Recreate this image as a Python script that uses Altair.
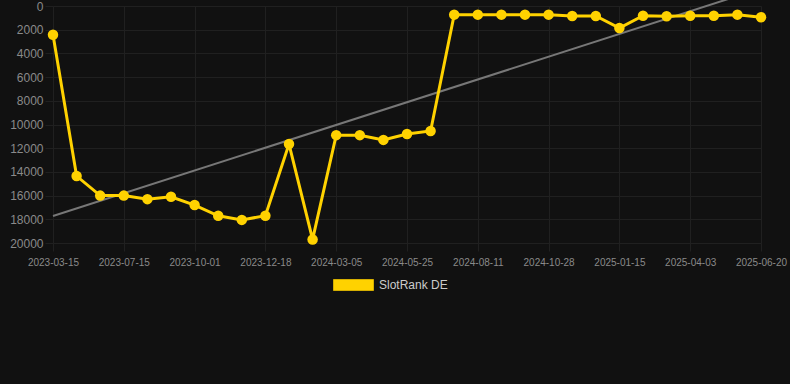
import altair as alt
import pandas as pd

dates = [
    "2023-03-15", "2023-04-25", "2023-06-04", "2023-07-15", "2023-08-11", "2023-09-05",
    "2023-10-01", "2023-10-27", "2023-11-22", "2023-12-18", "2024-01-13", "2024-02-08",
    "2024-03-05", "2024-03-31", "2024-04-29", "2024-05-25", "2024-06-20", "2024-07-16",
    "2024-08-11", "2024-09-06", "2024-10-02", "2024-10-28", "2024-11-23", "2024-12-20",
    "2025-01-15", "2025-02-10", "2025-03-08", "2025-04-03", "2025-04-29", "2025-05-25",
    "2025-06-20",
]
ranks = [
    2420, 14350, 16000, 16000, 16300, 16100,
    16800, 17700, 18050, 17700, 11650, 19700,
    10900, 10900, 11300, 10800, 10550, 730,
    730, 730, 730, 730, 840, 840,
    1860, 820, 870, 820, 820, 730,
    950,
]
series_name = "SlotRank DE"
trend_dates = ["2023-03-15", "2025-06-20"]
trend_values = [17720, -1480]
label_dates = dates[::3]
y_ticks = list(range(0, 20001, 2000))

YELLOW = "#FFD200"
GRID = "#202020"
LABEL = "#8a8a8a"

df = pd.DataFrame({"date": dates, "rank": ranks, "series": series_name})
tdf = pd.DataFrame({"date": trend_dates, "rank": trend_values})

x = alt.X(
    "date:O",
    sort=dates,
    scale=alt.Scale(type="point", padding=0, domain=dates),
    axis=alt.Axis(
        values=label_dates, labelAngle=0, title=None, grid=True, gridColor=GRID,
        tickColor=GRID, tickSize=8, labelPadding=6, labelColor=LABEL, labelFontSize=10,
        labelFont="Liberation Sans", domain=False, labelFlush=False, labelOverlap=False,
        labelBound=False,
    ),
)
y = alt.Y(
    "rank:Q",
    scale=alt.Scale(domain=[0, 20000], reverse=True, nice=False, zero=False),
    axis=alt.Axis(
        values=y_ticks, format="d", title=None, grid=True, gridColor=GRID,
        tickColor=GRID, tickSize=8, labelPadding=2, labelColor=LABEL, labelFontSize=12,
        labelFont="Liberation Sans", domain=False, labelOverlap=False, labelFlush=False,
        labelBound=False,
    ),
)

trend = alt.Chart(tdf).mark_line(color="#777777", strokeWidth=2, clip=False).encode(x=x, y=y)

line = alt.Chart(df).mark_line(color=YELLOW, strokeWidth=3).encode(x=x, y=y)

points = alt.Chart(df).mark_point(filled=True, opacity=1, size=110, shape="circle").encode(
    x=x,
    y=y,
    color=alt.Color(
        "series:N",
        scale=alt.Scale(range=[YELLOW]),
        legend=alt.Legend(
            title=None, orient="none", legendX=280, legendY=258.5,
            symbolType="M-1,-0.275H1V0.275H-1Z", symbolSize=1600,
            symbolStrokeColor="#d4ae00", symbolStrokeWidth=1,
            labelColor="#cccccc", labelFontSize=12, labelFont="Liberation Sans",
            labelOffset=5, padding=0,
        ),
    ),
)

chart = (
    alt.layer(trend, line, points)
    .properties(
        width=708, height=237, background="#111111",
        autosize=alt.AutoSizeParams(type="none"),
        padding={"left": 53, "top": 6, "right": 29, "bottom": 141},
    )
    .configure_view(strokeWidth=0)
)

chart.save("out.html", embed_options={"renderer": "svg", "actions": False})
